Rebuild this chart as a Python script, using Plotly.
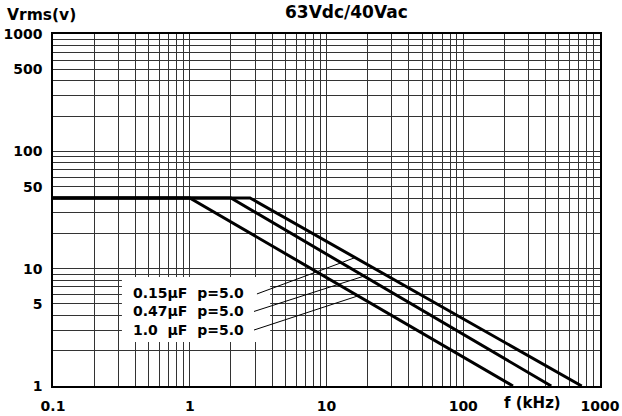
import numpy as np
import plotly.graph_objects as go

# ---- data ----
series_names = ["0.15µF", "0.47µF", "1.0 µF"]
pitch = ["5.0", "5.0", "5.0"]
freq_015 = [0.1, 2.76, 735]
vrms_015 = [40, 40, 1]
freq_047 = [0.1, 2.0, 440]
vrms_047 = [40, 40, 1]
freq_10 = [0.1, 1.0, 231]
vrms_10 = [40, 40, 1]
leader_freq = [16.2, 18.8, 17.0]  # where each leader touches its curve (kHz)

x_tick_labels = ["0.1", "1", "10", "100", "1000"]
y_tick_labels = ["1", "5", "10", "50", "100", "500", "1000"]

title_text = "63Vdc/40Vac"
y_title = "Vrms(v)"
x_title = "f (kHz)"

FONT = "DejaVu Sans"

fig = go.Figure()
curves = [(freq_015, vrms_015), (freq_047, vrms_047), (freq_10, vrms_10)]
for f, v in curves:
    fig.add_trace(go.Scatter(x=f, y=v, mode="lines",
                             line=dict(color="black", width=3),
                             showlegend=False, hoverinfo="skip"))

# grid values
xvals = [m * 10.0 ** e for e in range(-1, 3) for m in range(1, 10)] + [1000]
yvals = [m * 10.0 ** e for e in range(0, 3) for m in range(1, 10)] + [1000]


def lab(v, labels):
    for s in labels:
        if abs(float(s) - v) < 1e-9 * max(1, v):
            return s
    return ""

xtext = [lab(v, x_tick_labels) for v in xvals]
ytext = [lab(v, y_tick_labels) for v in yvals]

gridc = "#333333"
fig.update_xaxes(type="log", range=[-1, 3], tickvals=xvals, ticktext=xtext,
                 showgrid=True, gridcolor=gridc, gridwidth=1,
                 showline=True, linecolor="black", linewidth=1.5, mirror=True,
                 ticks="", ticklabelstandoff=6, automargin=False,
                 tickfont=dict(family=FONT, size=14, color="black", weight="bold"),
                 zeroline=False)
fig.update_yaxes(type="log", range=[0, 3], tickvals=yvals, ticktext=ytext,
                 showgrid=True, gridcolor=gridc, gridwidth=1,
                 showline=True, linecolor="black", linewidth=1.5, mirror=True,
                 ticks="", ticklabelstandoff=6, automargin=False,
                 tickfont=dict(family=FONT, size=14, color="black", weight="bold"),
                 zeroline=False)

# legend box (white)
fig.add_shape(type="rect", xref="paper", yref="paper",
              x0=0.126, x1=0.397, y0=0.125, y1=0.31,
              fillcolor="white", line=dict(width=0), layer="above")

# leader lines: from text end to a point on each curve
leader_start_f = [3.1, 2.95, 2.95]
leader_start_v = [6.09, 4.32, 3.0]
for i, (f, v) in enumerate(curves):
    lf = np.log10(f)
    lv = np.log10(v)
    tv = 10 ** np.interp(np.log10(leader_freq[i]), lf, lv)
    fig.add_shape(type="line", xref="x", yref="y",
                  x0=leader_start_f[i], y0=leader_start_v[i],
                  x1=leader_freq[i], y1=float(tv),
                  line=dict(color="black", width=1), layer="above")

label_y = [0.264, 0.213, 0.159]
for i in range(3):
    name = series_names[i].replace(" ", "\u00a0\u00a0")
    fig.add_annotation(xref="paper", yref="paper", x=0.1426, y=label_y[i],
                       xanchor="left", yanchor="middle", showarrow=False,
                       text=name + "\u00a0\u00a0p=" + pitch[i],
                       font=dict(family=FONT, size=14, color="black", weight="bold"))

fig.add_annotation(xref="paper", yref="paper", x=0.536, y=1.0625,
                   xanchor="center", yanchor="middle", showarrow=False,
                   text=title_text,
                   font=dict(family=FONT, size=17, color="black", weight="bold"))
fig.add_annotation(xref="paper", yref="paper", x=-0.0878, y=1.054,
                   xanchor="left", yanchor="middle", showarrow=False,
                   text=y_title,
                   font=dict(family=FONT, size=15.5, color="black", weight="bold"))
fig.add_annotation(xref="paper", yref="paper", x=0.876, y=-0.048,
                   xanchor="center", yanchor="middle", showarrow=False,
                   text=x_title,
                   font=dict(family=FONT, size=15, color="black", weight="bold"))

fig.update_layout(width=622, height=416,
                  margin=dict(l=53, r=22, t=34, b=30),
                  paper_bgcolor="white", plot_bgcolor="white",
                  showlegend=False)

fig.write_html("out.html", config={"displayModeBar": False},
               post_script="document.body.style.margin='0';document.body.style.padding='0';")
